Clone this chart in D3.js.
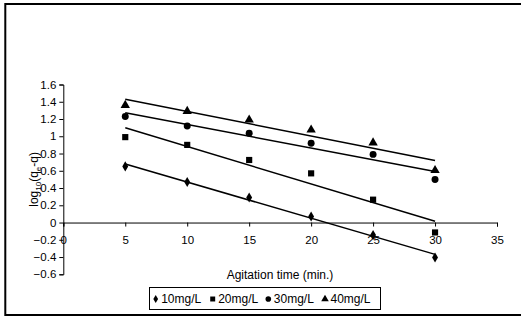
<!DOCTYPE html>
<html>
<head>
<meta charset="utf-8">
<script src="https://cdn.jsdelivr.net/npm/d3@7"></script>
<style>
  html, body { margin: 0; padding: 0; background: #fff; overflow: hidden; }
  svg { display: block; }
  svg text { font-family: "Liberation Sans", Arial, sans-serif; fill: #000; }
</style>
</head>
<body>
<div id="chart"></div>
<script>
// Agitation time (min.)
const times = [5, 10, 15, 20, 25, 30];
const seriesNames = ['10mg/L', '20mg/L', '30mg/L', '40mg/L'];
const values10 = [0.65, 0.47, 0.29, 0.07, -0.145, -0.405];
const values20 = [0.99, 0.90, 0.725, 0.57, 0.265, -0.115];
const values30 = [1.23, 1.12, 1.035, 0.92, 0.79, 0.50];
const values40 = [1.36, 1.29, 1.19, 1.075, 0.925, 0.605];
const xTicks = [0, 5, 10, 15, 20, 25, 30, 35];
const yTicks = [-0.6, -0.4, -0.2, 0, 0.2, 0.4, 0.6, 0.8, 1, 1.2, 1.4, 1.6];

const W = 521, H = 320;
const svg = d3.select('#chart').append('svg')
  .attr('width', W).attr('height', H);

// outer chart frame (right edge runs off the picture)
svg.append('rect')
  .attr('x', 5.3).attr('y', 4).attr('width', 540).attr('height', 311)
  .attr('fill', 'none').attr('stroke', '#000').attr('stroke-width', 2);

const x = d3.scaleLinear().domain([0, 35]).range([63.3, 497]);
const y = d3.scaleLinear().domain([-0.6, 1.6]).range([274.3, 84.5]);

// y axis
const yAxis = svg.append('g')
  .attr('transform', `translate(${x(0)},0)`)
  .call(d3.axisLeft(y).tickValues(yTicks).tickSize(4).tickPadding(3)
    .tickFormat(d => d3.format('')(+d.toFixed(1))));
yAxis.select('.domain').attr('stroke', '#000');
yAxis.selectAll('text').attr('font-size', 11.5);

// x axis at y = 0
const xAxis = svg.append('g')
  .attr('transform', `translate(0,${y(0)})`)
  .call(d3.axisBottom(x).tickValues(xTicks).tickSize(4).tickPadding(9));
xAxis.select('.domain').attr('stroke', '#000');
xAxis.selectAll('text').attr('font-size', 11.5);

// axis titles
svg.append('text')
  .attr('x', 280).attr('y', 279)
  .attr('text-anchor', 'middle').attr('font-size', 12)
  .text('Agitation time (min.)');

const yt = svg.append('text')
  .attr('transform', `translate(38,${y(0.5)}) rotate(-90)`)
  .attr('text-anchor', 'middle').attr('font-size', 12);
yt.append('tspan').text('log');
yt.append('tspan').attr('font-size', 8).attr('dy', 2.5).text('10');
yt.append('tspan').attr('dy', -2.5).text('(q');
yt.append('tspan').attr('font-size', 8).attr('dy', 2.5).text('e');
yt.append('tspan').attr('dy', -2.5).text('-q)');

const symbols = [d3.symbolDiamond, d3.symbolSquare, d3.symbolCircle, d3.symbolTriangle];
const sizes = [30, 38, 38, 38];
const allValues = [values10, values20, values30, values40];

// linear trend lines (least squares), drawn from first to last time
function fit(vals) {
  const mx = d3.mean(times), my = d3.mean(vals);
  const sxy = d3.sum(times, (t, i) => (t - mx) * (vals[i] - my));
  const sxx = d3.sum(times, t => (t - mx) * (t - mx));
  const b = sxy / sxx;
  return t => my + b * (t - mx);
}

allValues.forEach((vals, k) => {
  const f = fit(vals);
  const t0 = times[0], t1 = times[times.length - 1];
  svg.append('line')
    .attr('x1', x(t0)).attr('y1', y(f(t0)))
    .attr('x2', x(t1)).attr('y2', y(f(t1)))
    .attr('stroke', '#000').attr('stroke-width', 1.5);

  svg.append('g').selectAll('path')
    .data(vals)
    .enter()
    .append('path')
    .attr('transform', (d, i) => `translate(${x(times[i])},${y(d)})`)
    .attr('d', d3.symbol().type(symbols[k]).size(sizes[k]))
    .attr('fill', '#000');
});

// legend
const legend = svg.append('g');
legend.append('rect')
  .attr('x', 149.5).attr('y', 287.5).attr('width', 231).attr('height', 22)
  .attr('fill', '#fff').attr('stroke', '#000').attr('stroke-width', 1);
const legendX = [155.7, 212.7, 268.3, 325];
seriesNames.forEach((name, k) => {
  legend.append('path')
    .attr('transform', `translate(${legendX[k]},299)`)
    .attr('d', d3.symbol().type(symbols[k]).size(sizes[k] * 0.65))
    .attr('fill', '#000');
  legend.append('text')
    .attr('x', legendX[k] + 5.5).attr('y', 302.5)
    .attr('font-size', 12)
    .text(name);
});
</script>
</body>
</html>
